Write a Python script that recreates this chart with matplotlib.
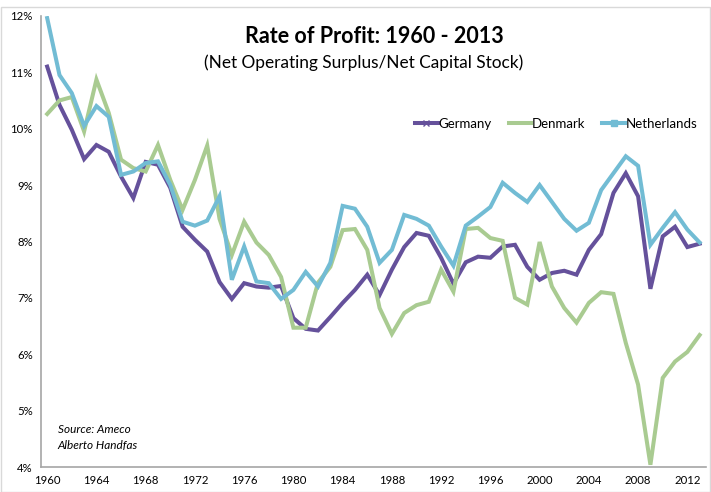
import matplotlib
matplotlib.use('Agg')
import matplotlib.pyplot as plt
from matplotlib.lines import Line2D
from matplotlib.patches import Rectangle

years = list(range(1960, 2014))

germany = [11.1, 10.42, 9.98, 9.46, 9.71, 9.59, 9.15, 8.77, 9.41, 9.36,
           8.95, 8.26, 8.03, 7.82, 7.28, 6.98, 7.26, 7.2, 7.18, 7.21,
           6.64, 6.45, 6.42, 6.66, 6.91, 7.14, 7.41, 7.05, 7.5, 7.9,
           8.15, 8.1, 7.71, 7.25, 7.63, 7.73, 7.71, 7.91, 7.94, 7.55,
           7.32, 7.44, 7.48, 7.41, 7.85, 8.13, 8.86, 9.21, 8.8, 7.16,
           8.09, 8.26, 7.9, 7.96]

denmark = [10.26, 10.5, 10.56, 9.95, 10.87, 10.28, 9.45, 9.3, 9.24, 9.71,
           9.09, 8.56, 9.09, 9.7, 8.4, 7.76, 8.35, 7.98, 7.76, 7.37,
           6.47, 6.47, 7.27, 7.55, 8.2, 8.22, 7.85, 6.82, 6.36, 6.73,
           6.87, 6.93, 7.5, 7.11, 8.22, 8.24, 8.06, 8.01, 7.0, 6.88,
           7.99, 7.2, 6.82, 6.56, 6.91, 7.1, 7.07, 6.2, 5.46, 4.04,
           5.58, 5.87, 6.04, 6.34]

netherlands = [11.96, 10.95, 10.63, 10.05, 10.4, 10.21, 9.18, 9.24, 9.39, 9.42,
               9.0, 8.35, 8.28, 8.37, 8.8, 7.32, 7.91, 7.29, 7.26, 6.98,
               7.14, 7.46, 7.2, 7.62, 8.63, 8.58, 8.26, 7.62, 7.85, 8.47,
               8.4, 8.28, 7.91, 7.57, 8.28, 8.44, 8.61, 9.04, 8.86, 8.7,
               9.0, 8.7, 8.4, 8.19, 8.33, 8.91, 9.21, 9.51, 9.34, 7.94,
               8.24, 8.52, 8.21, 7.98]

names = ['Germany', 'Denmark', 'Netherlands']
colors = ['#65519B', '#A9CB91', '#72BCD4']

plt.rcParams['font.family'] = ['Lato', 'DejaVu Sans']

fig = plt.figure(figsize=(7.11, 4.92), dpi=100)
fig.patches.append(Rectangle((0.001, 0.001), 0.998, 0.984, transform=fig.transFigure,
                             fill=False, edgecolor='#D9D9D9', linewidth=1))
ax = fig.add_axes([0.0577, 0.0508, 0.935, 0.917])

for vals, c in zip([germany, denmark, netherlands], colors):
    ax.plot(years, vals, color=c, linewidth=2.9, solid_joinstyle='miter')

ax.set_xlim(1959.5, 2013.5)
ax.set_ylim(4, 12)
ax.set_xticks(range(1960, 2014, 4))
ax.set_yticks(range(4, 13))
ax.set_yticklabels(['%d%%' % v for v in range(4, 13)])
ax.tick_params(length=0, labelsize=8.2, pad=6)
for s in ['top', 'right']:
    ax.spines[s].set_visible(False)
for s in ['left', 'bottom']:
    ax.spines[s].set_color('#A6A6A6')
    ax.spines[s].set_linewidth(1.2)

fig.text(0.527, 0.925, 'Rate of Profit: 1960 - 2013', ha='center', va='center',
         fontsize=15.5, fontweight='bold')
fig.text(0.512, 0.872, '(Net Operating Surplus/Net Capital Stock)', ha='center',
         va='center', fontsize=12.4)

handles = [Line2D([], [], color=colors[0], lw=2.9, marker='x', markersize=5),
           Line2D([], [], color=colors[1], lw=2.9),
           Line2D([], [], color=colors[2], lw=2.9, marker='s', markersize=5)]
ax.legend(handles, names, loc='upper right', bbox_to_anchor=(1.005, 0.80), ncol=3,
          frameon=False, fontsize=9.5, handlelength=1.7, handletextpad=0.05,
          columnspacing=1.3)

ax.text(0.025, 0.075, 'Source: Ameco', transform=ax.transAxes, fontsize=8.5,
        style='italic')
ax.text(0.025, 0.04, 'Alberto Handfas', transform=ax.transAxes, fontsize=8.5,
        style='italic')

fig.savefig('out.png', dpi=100)
